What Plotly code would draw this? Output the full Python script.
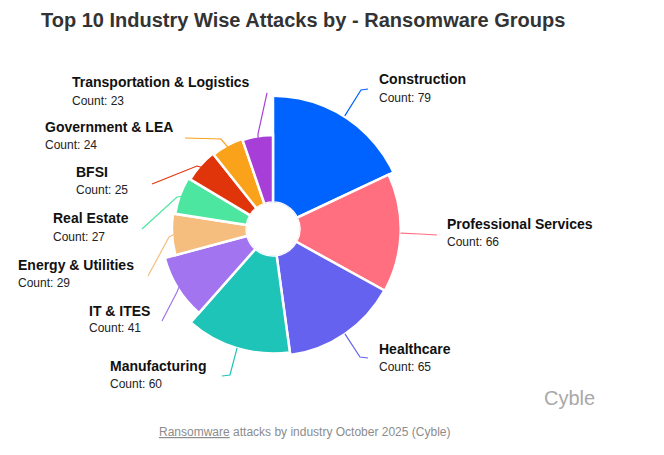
import numpy as np
import plotly.graph_objects as go

# Data: industry attack counts (Oct 2025)
industries = ["Construction", "Professional Services", "Healthcare", "Manufacturing",
              "IT & ITES", "Energy & Utilities", "Real Estate", "BFSI",
              "Government & LEA", "Transportation & Logistics"]
counts = [79, 66, 65, 60, 41, 29, 27, 25, 24, 23]
colors = ["#0062FF", "#FF6F7F", "#6462EE", "#1EC4B8", "#A274F0",
          "#F6BE7E", "#4CE6A0", "#E0340A", "#FBA21B", "#A83ED8"]

W, H = 664, 455
OFF = 8                        # page body margin in the browser
CX, CY, R = 273, 229, 132      # pie centre / outer radius in screen px
HOLE = 0.2
R_LO = np.log10(4.0)           # radial log range start
R_HI = np.log10(max(counts))

total = sum(counts)
widths = [c * 360 / total for c in counts]
mids = list(np.cumsum(widths) - np.array(widths) / 2)


def px(x, y):
    # screen px -> paper coords
    return (x - OFF) / W, 1 - (y - OFF) / H


fig = go.Figure()
fig.add_trace(go.Barpolar(
    r=counts, theta=mids, width=widths, base=10 ** R_LO,
    marker=dict(color=colors, line=dict(color="white", width=2.5)),
    hoverinfo="skip", showlegend=False,
))

x0d, y1d = px(CX - R, CY - R)
x1d, y0d = px(CX + R, CY + R)
fig.update_layout(
    width=W, height=H,
    margin=dict(l=0, r=0, t=0, b=0),
    paper_bgcolor="white",
    font=dict(family="Liberation Sans, Arial, sans-serif"),
    polar=dict(
        domain=dict(x=[x0d, x1d], y=[y0d, y1d]),
        hole=HOLE,
        bgcolor="white",
        radialaxis=dict(type="log", range=[R_LO, R_HI], visible=False),
        angularaxis=dict(rotation=90, direction="clockwise", visible=False),
    ),
)

# label placement: (name x, name y, count y), leader elbow and end in px
labels_pos = [
    (377, 79, 98, (361, 90), (368, 89)),
    (445, 224, 242, (420, 234), (437, 235)),
    (377, 349, 367, (360, 357), (368, 358)),
    (108, 366, 384, (230, 375), (222, 376)),
    (87, 311, 328, (177, 292), (162, 321)),
    (16, 265, 283, (169, 237), (148, 276)),
    (51, 218, 237, (177, 197), (142, 229)),
    (74, 172, 190, (197, 166), (152, 184)),
    (43, 127, 145, (221, 139), (185, 138)),
    (70, 82, 101, (258, 134), (267, 93)),
]

for name, cnt, col, mid, (lx, ny, cy, elbow, end) in zip(industries, counts, colors, mids, labels_pos):
    # start of leader line on the slice's outer edge
    frac = (np.log10(cnt) - R_LO) / (R_HI - R_LO)
    rpx = HOLE * R + (1 - HOLE) * R * frac + 2
    a = np.radians(mid)
    sx, sy = CX + rpx * np.sin(a), CY - rpx * np.cos(a)
    pts = [px(sx, sy), px(*elbow), px(*end)]
    path = "M " + " L ".join(f"{x:.4f},{y:.4f}" for x, y in pts)
    fig.add_shape(type="path", path=path, xref="paper", yref="paper",
                  line=dict(color=col, width=1.2))
    ax, ay = px(lx, ny)
    fig.add_annotation(x=ax, y=ay, xref="paper", yref="paper", xanchor="left", yanchor="middle",
                       text=f"<b>{name}</b>", showarrow=False,
                       font=dict(size=14, color="#111111"))
    bx, by = px(lx, cy)
    fig.add_annotation(x=bx, y=by, xref="paper", yref="paper", xanchor="left", yanchor="middle",
                       text=f"Count: {cnt}", showarrow=False,
                       font=dict(size=12, color="#222222"))

# title, watermark, caption
tx, ty = px(303, 19.5)
fig.add_annotation(x=tx, y=ty, xref="paper", yref="paper", xanchor="center", yanchor="middle",
                   text="<b>Top 10 Industry Wise Attacks by - Ransomware Groups</b>", showarrow=False,
                   borderpad=0, font=dict(size=20, color="#333333"))
wx, wy = px(569, 398)
fig.add_annotation(x=wx, y=wy, xref="paper", yref="paper", xanchor="center", yanchor="middle",
                   text="Cyble", showarrow=False, font=dict(size=20, color="#A8A8A8"))
cx_, cy_ = px(304, 432)
fig.add_annotation(x=cx_, y=cy_, xref="paper", yref="paper", xanchor="center", yanchor="middle",
                   text="<u>Ransomware</u> attacks by industry October 2025 (Cyble)", showarrow=False,
                   font=dict(size=12, color="#8C8C8C"))

fig.write_html("out.html")
